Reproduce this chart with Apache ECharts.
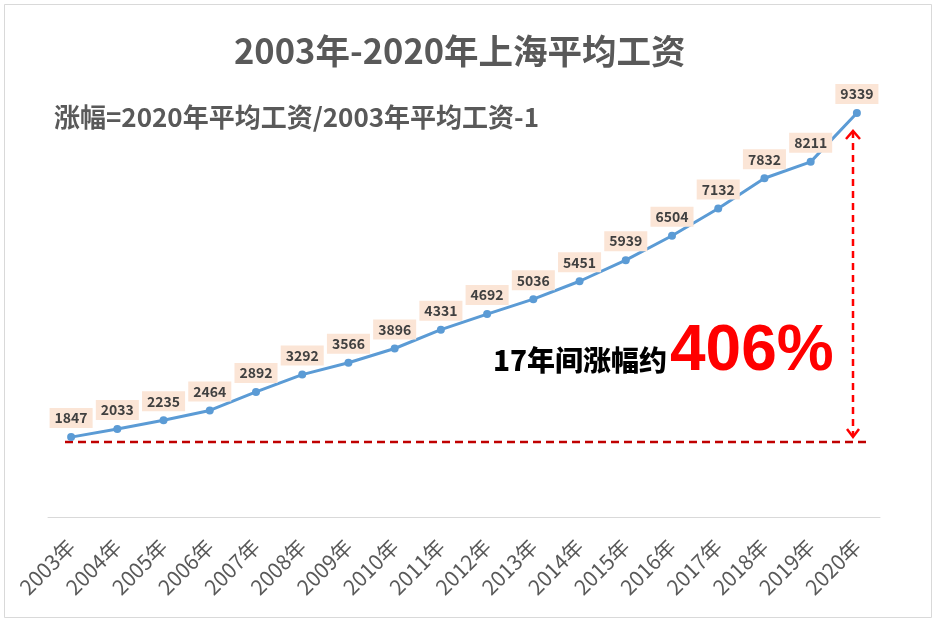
<!DOCTYPE html>
<html>
<head>
<meta charset="utf-8">
<script src="https://cdn.jsdelivr.net/npm/echarts@6/dist/echarts.min.js"></script>
<style>html,body{margin:0;padding:0;background:#fff}#c{width:936px;height:623px}</style>
</head>
<body>
<div id="c"></div>
<script>
const years = ['2003年','2004年','2005年','2006年','2007年','2008年','2009年','2010年','2011年','2012年','2013年','2014年','2015年','2016年','2017年','2018年','2019年','2020年'];
const wages = [1847,2033,2235,2464,2892,3292,3566,3896,4331,4692,5036,5451,5939,6504,7132,7832,8211,9339];
const titleText = '2003年-2020年上海平均工资';
const subText = '涨幅=2020年平均工资/2003年平均工资-1';
const noteText = '17年间涨幅约';
const pctText = '406%';

const CJK = '"Noto Sans CJK SC","Noto Sans",sans-serif';
const chart = echarts.init(document.getElementById('c'));
chart.setOption({
  animation: false,
  backgroundColor: '#fff',
  title: [{
    text: titleText, left: 229, top: 29,
    textStyle: {fontFamily: CJK, fontSize: 34.5, fontWeight: 'bold', color: '#595959'}
  },{
    text: subText, left: 49, top: 99,
    textStyle: {fontFamily: CJK, fontSize: 26, fontWeight: 'bold', color: '#595959'}
  }],
  grid: {left: 48, right: 56, top: 84.5, bottom: 106, outerBoundsMode: 'none'},
  xAxis: {
    type: 'category', data: years, boundaryGap: true,
    axisLine: {lineStyle: {color: '#D9D9D9', width: 1}},
    axisTick: {show: false},
    axisLabel: {rotate: 45, interval: 0, color: '#595959', fontSize: 21, fontFamily: CJK, margin: 26, hideOverlap: false}
  },
  yAxis: {type: 'value', min: 0, max: 10000, show: false, splitLine: {show: false}},
  series: [{
    type: 'line', data: wages,
    symbol: 'circle', symbolSize: 8,
    lineStyle: {color: '#5B9BD5', width: 3},
    itemStyle: {color: '#5B9BD5'},
    label: {
      show: true, position: 'top', distance: 5,
      fontFamily: CJK, fontSize: 14, fontWeight: 'bold', color: '#404040',
      backgroundColor: '#FBE5D6', padding: [3, 5, 3, 5]
    }
  }],
  graphic: [
    {type: 'rect', shape: {x: 4.5, y: 4.5, width: 927, height: 613}, style: {fill: 'none', stroke: '#D9D9D9', lineWidth: 1}},
    {type: 'line', shape: {x1: 65, y1: 442, x2: 870, y2: 442}, style: {stroke: '#C00000', lineWidth: 2.5, lineDash: [8, 5]}},
    {type: 'line', shape: {x1: 853, y1: 131, x2: 853, y2: 436}, style: {stroke: '#FF0000', lineWidth: 2.5, lineDash: [7, 5]}},
    {type: 'polyline', shape: {points: [[846, 139], [853, 131], [860, 139]]}, style: {stroke: '#FF0000', lineWidth: 2.5, fill: 'none'}},
    {type: 'polyline', shape: {points: [[847, 429], [853, 437], [859, 429]]}, style: {stroke: '#FF0000', lineWidth: 2.5, fill: 'none'}},
    {type: 'text', x: 493, y: 374, style: {text: noteText, fontFamily: CJK, fontSize: 28, fontWeight: 900, fill: '#000', verticalAlign: 'bottom'}},
    {type: 'text', x: 670, y: 384, style: {text: pctText, fontFamily: '"Liberation Sans",Arial,sans-serif', fontSize: 64, fontWeight: 'bold', fill: '#FF0000', verticalAlign: 'bottom'}}
  ]
});
</script>
</body>
</html>
